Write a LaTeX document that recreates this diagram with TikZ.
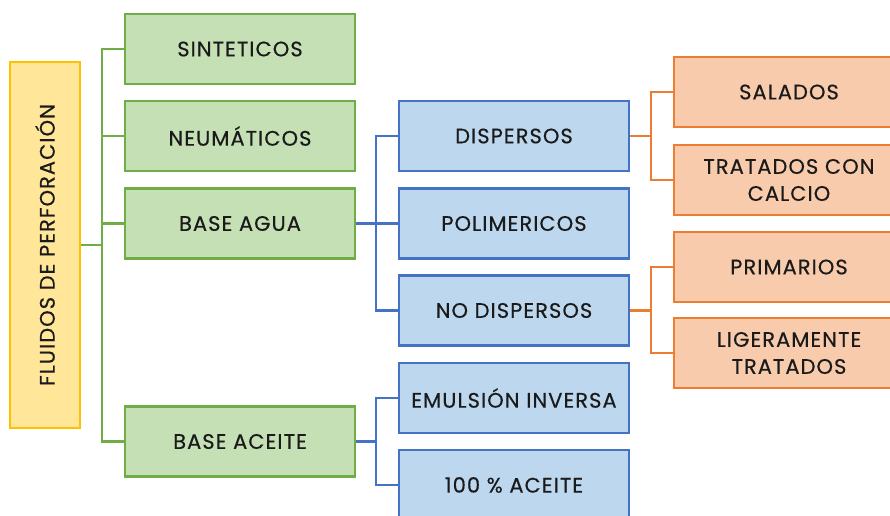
\documentclass[tikz,border=0pt]{standalone}
\usepackage{fontspec}
\setmainfont{Poppins}[LetterSpace=5,FakeBold=0.4]
\definecolor{gfill}{HTML}{C5E0B4}
\definecolor{gdraw}{HTML}{70AD47}
\definecolor{bfill}{HTML}{BDD7EE}
\definecolor{bdraw}{HTML}{4472C4}
\definecolor{ofill}{HTML}{F8CBAD}
\definecolor{odraw}{HTML}{ED7D31}
\definecolor{yfill}{HTML}{FFE699}
\definecolor{ydraw}{HTML}{FFC000}
\definecolor{txt}{HTML}{1A1A1A}
\begin{document}
\begin{tikzpicture}[x=1pt,y=-1pt,
  basebox/.style={rectangle, line width=2.2pt, minimum width=230pt, minimum height=70pt,
    inner sep=0pt, align=center, text=txt, font=\fontsize{21}{27}\selectfont},
  gbox/.style={basebox, fill=gfill, draw=gdraw},
  bbox/.style={basebox, fill=bfill, draw=bdraw},
  obox/.style={basebox, fill=ofill, draw=odraw},
  ybox/.style={basebox, fill=yfill, draw=ydraw, minimum width=366pt, minimum height=70pt, rotate=90},
  gline/.style={draw=gdraw, line width=2.2pt},
  bline/.style={draw=bdraw, line width=2.2pt},
  oline/.style={draw=odraw, line width=2.2pt}]
\useasboundingbox (0,0) rectangle (890,515);
\clip (0,0) rectangle (890,515);
\fill[white] (0,0) rectangle (890,515);
% root
\node[ybox] (root) at (45,245) {FLUIDOS DE PERFORACIÓN};
% green
\node[gbox] (sint) at (240,49) {SINTETICOS};
\node[gbox] (neum) at (240,136) {NEUMÁTICOS};
\node[gbox] (agua) at (240,223.5) {BASE AGUA};
\node[gbox] (aceite) at (240,441.5) {BASE ACEITE};
% blue
\node[bbox] (disp) at (514,136) {DISPERSOS};
\node[bbox] (poli) at (514,223.5) {POLIMERICOS};
\node[bbox] (nodisp) at (514,310.5) {NO DISPERSOS};
\node[bbox] (emul) at (514,398) {EMULSIÓN INVERSA};
\node[bbox] (cien) at (514,485) {100 \% ACEITE};
% orange
\node[obox] (sal) at (789,92) {SALADOS};
\node[obox] (trat) at (789,180) {TRATADOS CON\\CALCIO};
\node[obox] (prim) at (789,267) {PRIMARIOS};
\node[obox] (lig) at (789,353) {LIGERAMENTE\\TRATADOS};
% coordinates for trunks
\coordinate (gt) at (103,245);
\coordinate (bt1) at (377,223.5);
\coordinate (bt2) at (377,441.5);
\coordinate (ot1) at (652,136);
\coordinate (ot2) at (652,310.5);
% green connectors
\draw[gline] (root.south) -- (gt);
\foreach \n in {sint,neum,agua,aceite} \draw[gline] (\n.west) -- ++(-22,0) |- (gt);
% blue connectors
\draw[bline] (agua.east) -- (bt1);
\foreach \n in {disp,poli,nodisp} \draw[bline] (\n.west) -- ++(-22,0) |- (bt1);
\draw[bline] (aceite.east) -- (bt2);
\foreach \n in {emul,cien} \draw[bline] (\n.west) -- ++(-22,0) |- (bt2);
% orange connectors
\draw[oline] (disp.east) -- (ot1);
\foreach \n in {sal,trat} \draw[oline] (\n.west) -- ++(-22,0) |- (ot1);
\draw[oline] (nodisp.east) -- (ot2);
\foreach \n in {prim,lig} \draw[oline] (\n.west) -- ++(-22,0) |- (ot2);
\end{tikzpicture}
\end{document}
